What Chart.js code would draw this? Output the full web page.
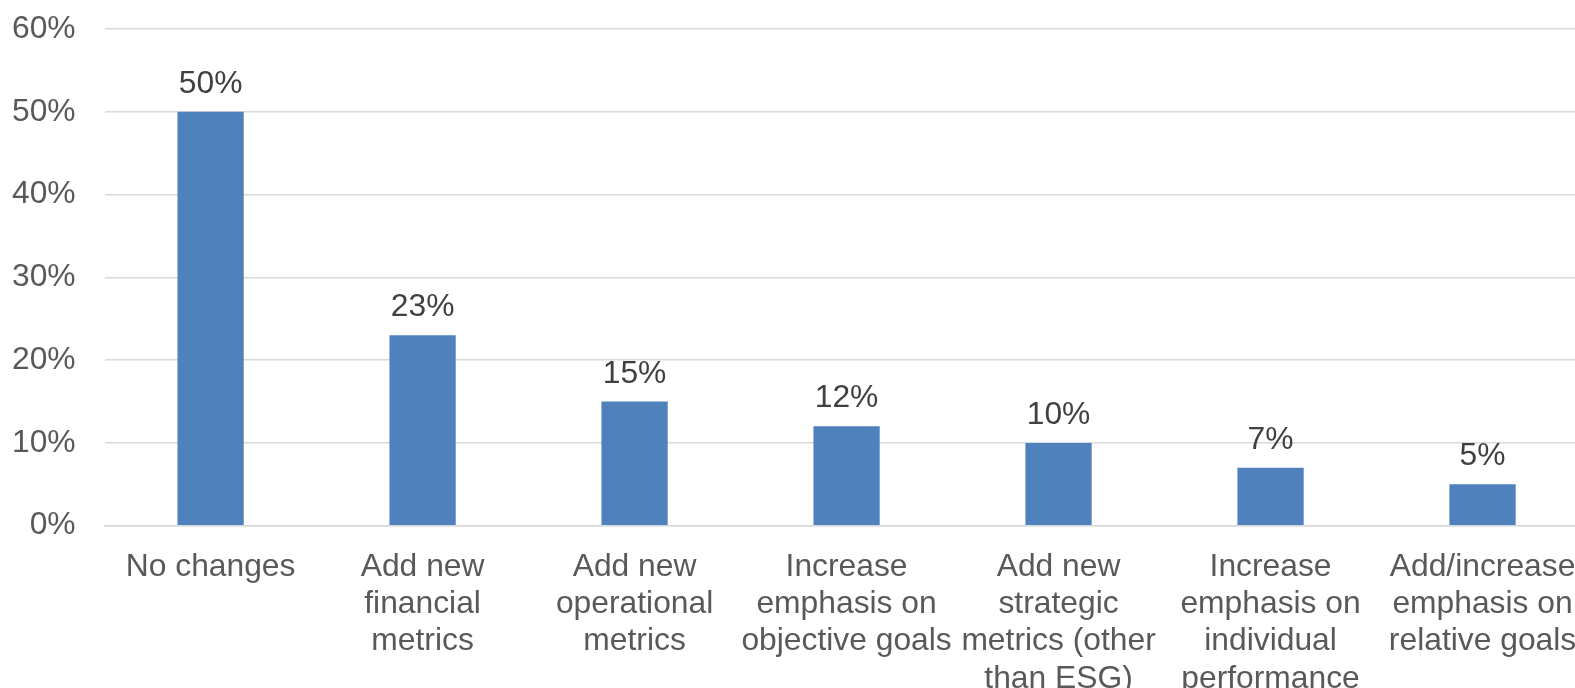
<!DOCTYPE html>
<html>
<head>
<meta charset="utf-8">
<script src="https://cdn.jsdelivr.net/npm/chart.js@4/dist/chart.umd.min.js"></script>
<style>
    html, body { margin: 0; padding: 0; background: #fff; overflow: hidden; }
    #wrap { position: relative; width: 1600px; height: 688px; }
</style>
</head>
<body>
<div id="wrap"><canvas id="changesChart"></canvas></div>
<script>
// Planned changes to incentive metrics
const categories = [
    'No changes',
    ['Add new', 'financial', 'metrics'],
    ['Add new', 'operational', 'metrics'],
    ['Increase', 'emphasis on', 'objective goals'],
    ['Add new', 'strategic', 'metrics (other', 'than ESG)'],
    ['Increase', 'emphasis on', 'individual', 'performance'],
    ['Add/increase', 'emphasis on', 'relative goals']
];
const shares = [50, 23, 15, 12, 10, 7, 5];
const yTicks = [0, 10, 20, 30, 40, 50, 60];

const FONT = '"Liberation Sans", Arial, sans-serif';
const FONT_SIZE = 31.8;

// value labels above each bar
const barValueLabels = {
    id: 'barValueLabels',
    afterDatasetsDraw(chart) {
        const ctx = chart.ctx;
        const meta = chart.getDatasetMeta(0);
        ctx.save();
        ctx.font = FONT_SIZE + 'px ' + FONT;
        ctx.fillStyle = '#404040';
        ctx.textAlign = 'center';
        ctx.textBaseline = 'alphabetic';
        meta.data.forEach((bar, i) => {
            ctx.fillText(shares[i] + '%', bar.x, bar.y - 19);
        });
        ctx.restore();
    }
};

const ctx = document.getElementById('changesChart').getContext('2d');
new Chart(ctx, {
    type: 'bar',
    data: {
        labels: categories,
        datasets: [{
            data: shares,
            backgroundColor: '#4F81BD',
            borderWidth: 0,
            categoryPercentage: 1,
            barPercentage: 0.3126
        }]
    },
    options: {
        responsive: true,
        maintainAspectRatio: false,
        animation: false,
        layout: { padding: { top: 29, right: 11, left: 0, bottom: 0 } },
        plugins: {
            legend: { display: false },
            tooltip: { enabled: false }
        },
        scales: {
            x: {
                grid: { display: false, drawTicks: false },
                border: { display: true, color: '#D9D9D9', width: 1.5 },
                ticks: {
                    color: '#595959',
                    font: { family: FONT, size: FONT_SIZE, lineHeight: 37.2 / FONT_SIZE },
                    padding: 23,
                    maxRotation: 0,
                    autoSkip: false
                },
                afterFit(scale) { scale.height = 162.3; }
            },
            y: {
                min: 0,
                max: 60,
                afterBuildTicks(scale) { scale.ticks = yTicks.map(v => ({ value: v })); },
                grid: { color: '#D9D9D9', lineWidth: 1.5, drawTicks: false },
                border: { display: false },
                ticks: {
                    color: '#595959',
                    font: { family: FONT, size: FONT_SIZE },
                    padding: 29,
                    callback: v => v + '%'
                },
                afterFit(scale) {
                    scale.width = 104.6;
                    // top/bottom room is handled by layout padding
                    scale.paddingTop = 0;
                    scale.paddingBottom = 0;
                }
            }
        }
    },
    plugins: [barValueLabels]
});
</script>
</body>
</html>
